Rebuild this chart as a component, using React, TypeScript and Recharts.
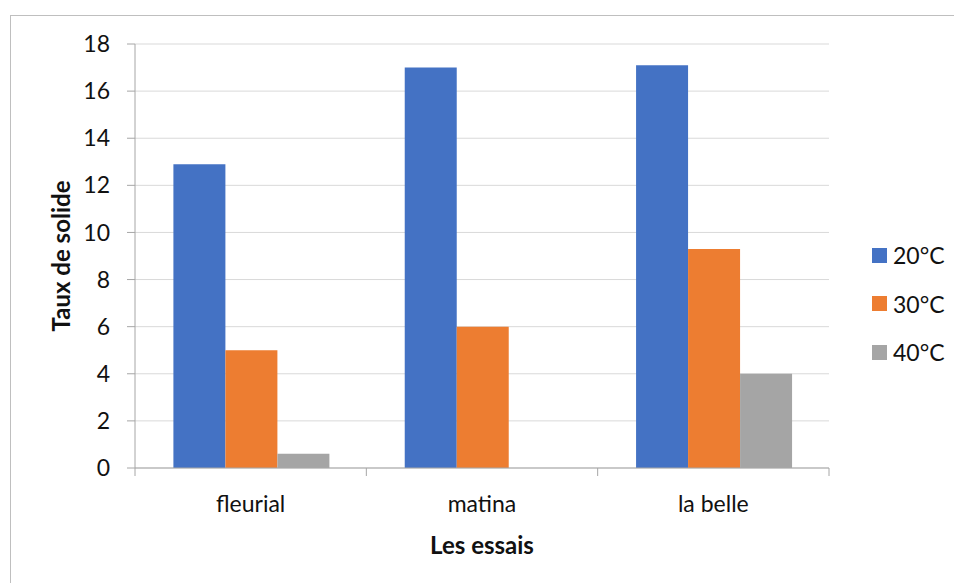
import React from 'react';
import { BarChart, Bar, XAxis, YAxis, CartesianGrid } from 'recharts';

const categories = ['fleurial', 'matina', 'la belle'];
const temp20 = [12.9, 17.0, 17.1];
const temp30 = [5.0, 6.0, 9.3];
const temp40 = [0.6, 0, 4.0];
const yTicks = [0, 2, 4, 6, 8, 10, 12, 14, 16, 18];

const series = [
  { key: 't20', name: '20°C', color: '#4472C4' },
  { key: 't30', name: '30°C', color: '#ED7D31' },
  { key: 't40', name: '40°C', color: '#A5A5A5' },
];

const data = categories.map((c, i) => ({
  name: c,
  t20: temp20[i],
  t30: temp30[i],
  t40: temp40[i],
}));

const font = 'Lato, "Open Sans", sans-serif';
const textColor = '#111';
const axisColor = '#a6a6a6';
const X_TICK_SIZE = 8;
const X_TICK_MARGIN = 20;

// category label plus Excel-style tick marks on the band edges
function CategoryTick(props: any) {
  const { x, y, payload, index, visibleTicksCount } = props;
  const half = payload?.offset ?? 0;
  const y0 = y - X_TICK_SIZE - X_TICK_MARGIN;
  const last = index === visibleTicksCount - 1;
  return (
    <g>
      <line x1={x - half} x2={x - half} y1={y0} y2={y0 + X_TICK_SIZE} stroke={axisColor} />
      {last && <line x1={x + half} x2={x + half} y1={y0} y2={y0 + X_TICK_SIZE} stroke={axisColor} />}
      <text x={x} y={y} dy="0.71em" textAnchor="middle" fontSize={23} fill={textColor} fontFamily={font}>
        {payload.value}
      </text>
    </g>
  );
}

export default function App() {
  return (
    <div
      style={{
        position: 'absolute',
        left: 0,
        top: 0,
        width: 954,
        height: 583,
        overflow: 'hidden',
        background: '#fff',
        fontFamily: font,
      }}
    >
      <div
        style={{
          position: 'absolute',
          left: 10,
          top: 15,
          width: 1000,
          height: 700,
          border: '1px solid #bfbfbf',
        }}
      />
      <BarChart
        width={954}
        height={583}
        data={data}
        margin={{ top: 44, right: 125, left: 30, bottom: 25 }}
        barCategoryGap="16.6%"
        barGap={0}
        style={{ position: 'absolute', left: 0, top: 0 }}
      >
        <CartesianGrid vertical={false} stroke="#d9d9d9" />
        <XAxis
          dataKey="name"
          height={90}
          tickLine={false}
          tickSize={X_TICK_SIZE}
          axisLine={{ stroke: axisColor }}
          tick={<CategoryTick />}
          tickMargin={X_TICK_MARGIN}
          label={{
            value: 'Les essais',
            position: 'insideBottom',
            offset: 4,
            style: { fontSize: 24, fontWeight: 'bold', fill: textColor, fontFamily: font },
          }}
        />
        <YAxis
          domain={[0, 18]}
          ticks={yTicks}
          width={105}
          tickSize={8}
          tickLine={{ stroke: axisColor }}
          axisLine={{ stroke: axisColor }}
          tick={{ fontSize: 23, fill: textColor, fontFamily: font }}
          tickMargin={17}
          label={{
            value: 'Taux de solide',
            angle: -90,
            position: 'insideLeft',
            offset: 31,
            style: { textAnchor: 'middle', fontSize: 24, fontWeight: 'bold', fill: textColor, fontFamily: font },
          }}
        />
        {series.map((s) => (
          <Bar key={s.key} dataKey={s.key} name={s.name} fill={s.color} isAnimationActive={false} />
        ))}
      </BarChart>
      {series.map((s, i) => (
        <div
          key={s.key}
          style={{
            position: 'absolute',
            left: 872,
            top: 240 + i * 48.5,
            height: 30,
            display: 'flex',
            alignItems: 'center',
            fontSize: 23,
            color: textColor,
          }}
        >
          <span style={{ display: 'inline-block', width: 15, height: 15, background: s.color, marginRight: 6 }} />
          {s.name}
        </div>
      ))}
    </div>
  );
}
